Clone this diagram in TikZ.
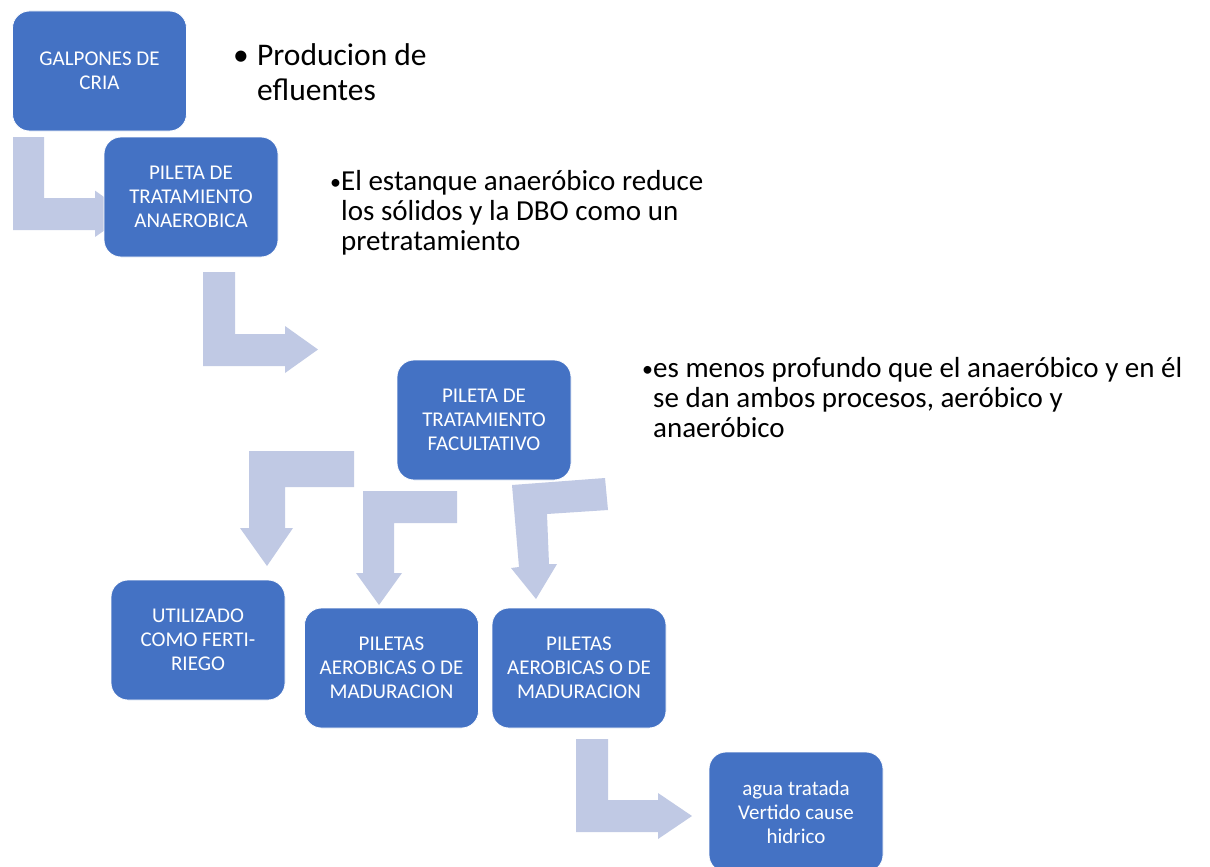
\documentclass[tikz,border=0pt]{standalone}
\usepackage{fontspec}
\setmainfont{Carlito}
\definecolor{boxblue}{RGB}{68,114,196}
\definecolor{arrowc}{RGB}{192,201,228}
\newcommand{\smallbul}{\makebox[11pt][l]{\raisebox{1pt}{\fontsize{22}{22}\selectfont •}}}
\begin{document}
\begin{tikzpicture}[x=1pt,y=-1pt,
  box/.style={draw=white,line width=0.8pt,fill=boxblue,rounded corners=17pt,
    minimum width=174pt,minimum height=120pt,text=white,align=center,
    font=\fontsize{21}{24}\selectfont,inner sep=0pt},
  barrow/.style={fill=arrowc,draw=none},
  bul/.style={align=left,anchor=base west,inner sep=0pt,text=black}]
\useasboundingbox (0,0) rectangle (1210,867);
\fill[white] (0,0) rectangle (1210,867);
% bent arrows
\fill[barrow] (13,137) -- (44,137) -- (44,198) -- (95,198) -- (95,190.6) -- (128,214) -- (95,237) -- (95,230) -- (13,230) -- cycle;
\fill[barrow] (203,272) -- (235,272) -- (235,334) -- (285,334) -- (285,326) -- (318,349.5) -- (285,373) -- (285,366) -- (203,366) -- cycle;
\fill[barrow] (249,451) -- (354,451) -- (354,487) -- (285,487) -- (285,528) -- (293,528) -- (267,566) -- (240,528) -- (249,528) -- cycle;
\fill[barrow] (363,491) -- (457,491) -- (457,523) -- (394,523) -- (394,573) -- (402,573) -- (379,605) -- (356,573) -- (363,573) -- cycle;
\fill[barrow] (512,485) -- (605,478) -- (608,510) -- (547,514) -- (549,564) -- (557,564) -- (536,599) -- (511,568) -- (519,567) -- cycle;
\fill[barrow] (576,739) -- (608,739) -- (608,800) -- (658,800) -- (658,793) -- (692,816) -- (658,839) -- (658,832) -- (576,832) -- cycle;
% boxes
\node[box] (galpones) at (99.5,71) {GALPONES DE\\CRIA};
\node[box] (anaer) at (191,197) {PILETA DE\\TRATAMIENTO\\ANAEROBICA};
\node[box] (facult) at (484,420) {PILETA DE\\TRATAMIENTO\\FACULTATIVO};
\node[box] (ferti) at (198,640) {UTILIZADO\\COMO FERTI-\\RIEGO};
\node[box] (aerob1) at (391.5,668) {PILETAS\\AEROBICAS O DE\\MADURACION};
\node[box] (aerob2) at (579,668) {PILETAS\\AEROBICAS O DE\\MADURACION};
\node[box] (agua) at (796,812) {agua tratada\\Vertido cause\\hidrico};
% bullet texts (anchor at baseline of last line)
\node[bul,font=\fontsize{31.5}{35}\selectfont] (t1) at (233,100)
  {\makebox[24pt][l]{•}Producion de\\\hspace*{24pt}efluentes};
\node[bul,font=\fontsize{29}{30}\selectfont] (t2) at (330,250)
  {\smallbul El estanque anaeróbico reduce\\\hspace*{11pt}los sólidos y la DBO como un\\\hspace*{11pt}pretratamiento};
\node[bul,font=\fontsize{29}{30}\selectfont] (t3) at (642,437)
  {\smallbul es menos profundo que el anaeróbico y en él\\\hspace*{11pt}se dan ambos procesos, aeróbico y\\\hspace*{11pt}anaeróbico};
\end{tikzpicture}
\end{document}
